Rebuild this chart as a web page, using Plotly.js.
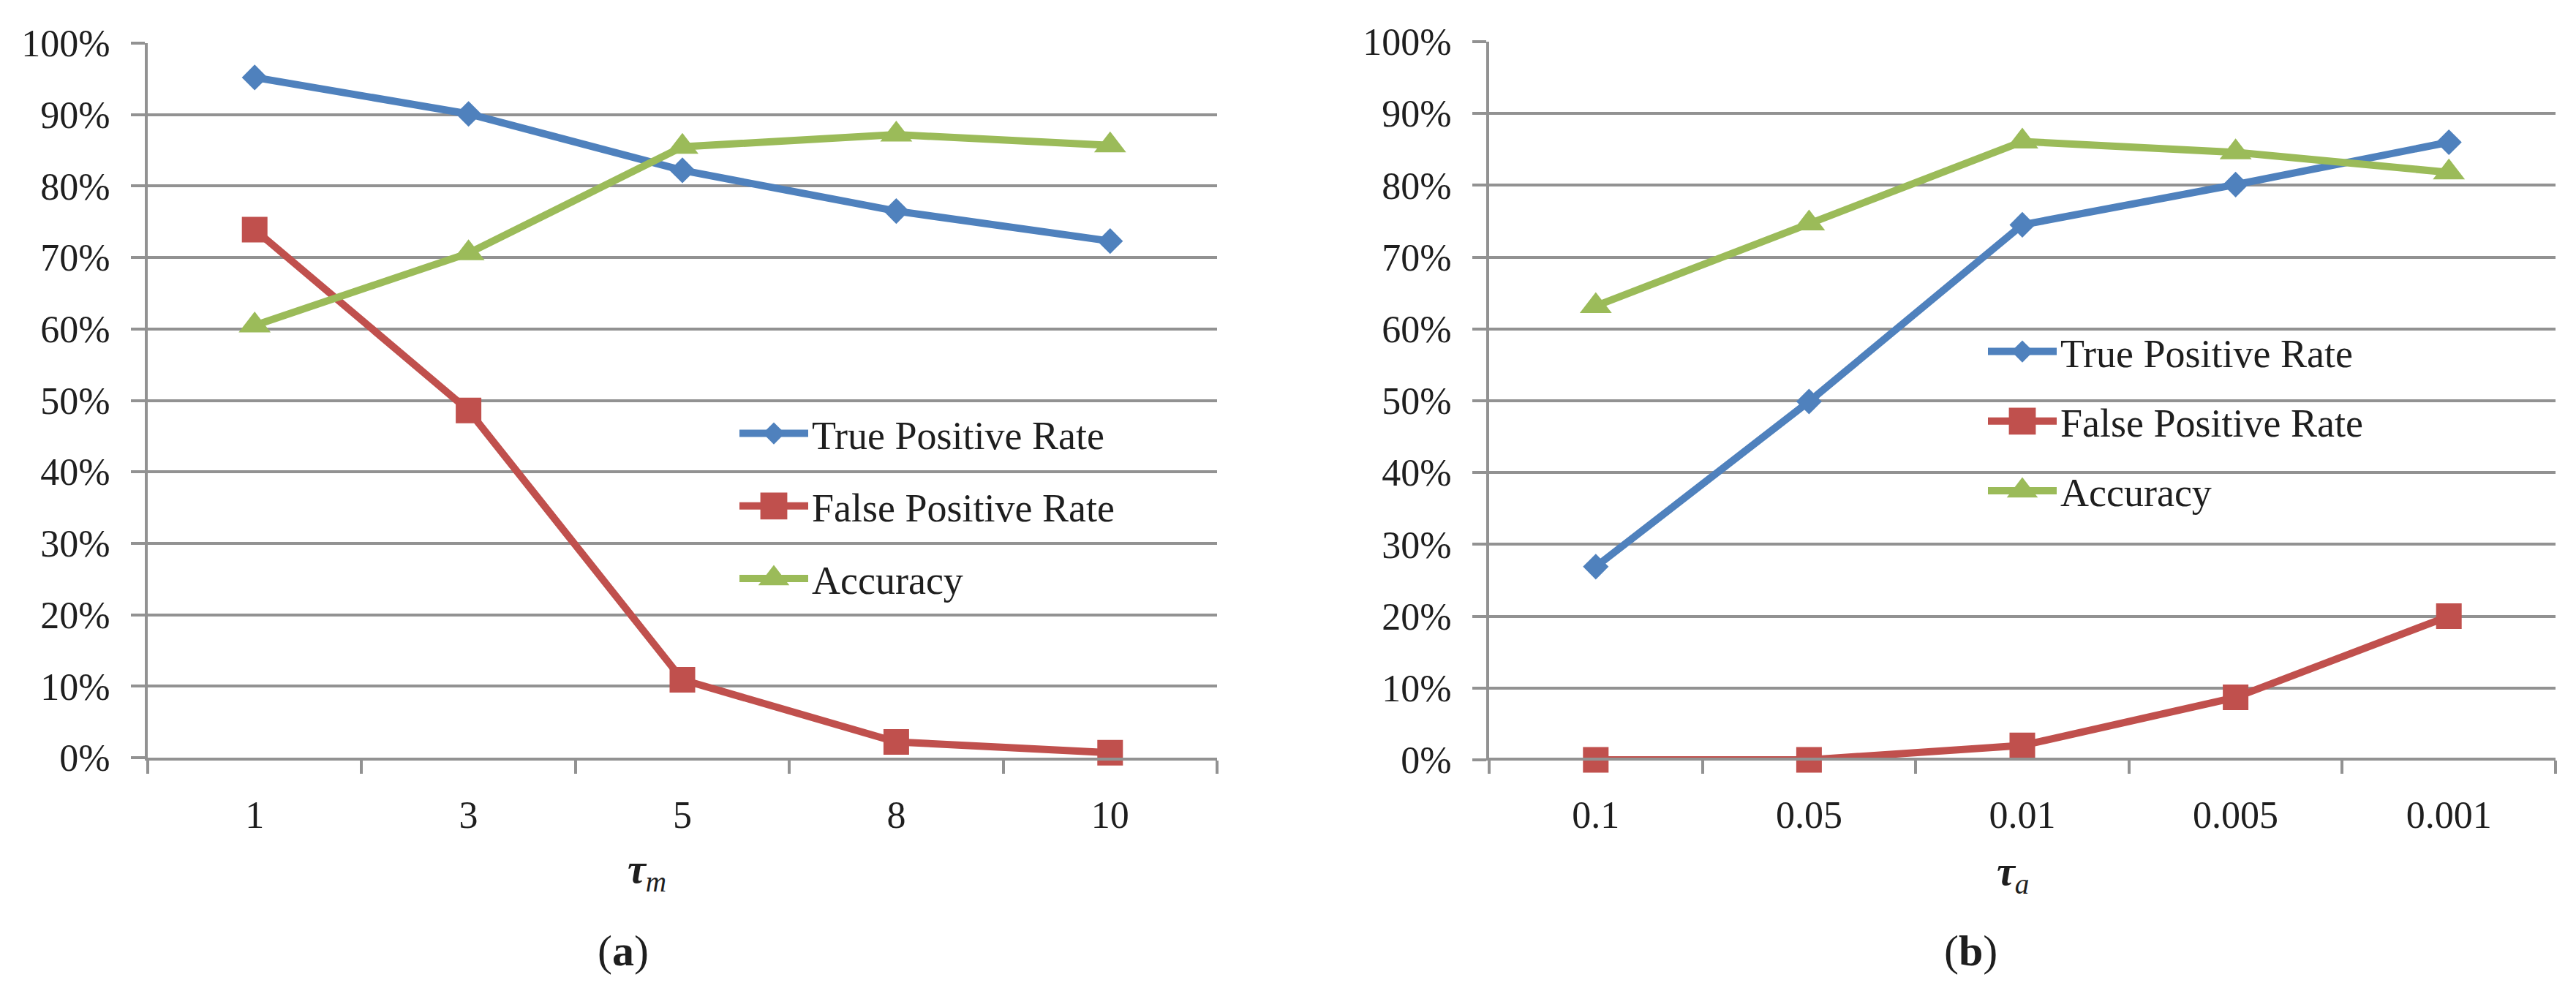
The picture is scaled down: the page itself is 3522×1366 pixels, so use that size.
<!DOCTYPE html>
<html>
<head>
<meta charset="utf-8">
<script src="https://cdn.plot.ly/plotly-3.0.1.min.js"></script>
<style>html,body{margin:0;padding:0;background:#fff;}#chart{width:3522px;height:1366px;}</style>
</head>
<body>
<div id="chart"></div>
<script>
// Panel (a): tau_m
const tauM = ['1', '3', '5', '8', '10'];
const tprA = [0.952, 0.901, 0.822, 0.765, 0.723];
const fprA = [0.739, 0.486, 0.109, 0.022, 0.007];
const accA = [0.605, 0.706, 0.855, 0.872, 0.857];
// Panel (b): tau_a
const tauA = ['0.1', '0.05', '0.01', '0.005', '0.001'];
const tprB = [0.269, 0.499, 0.745, 0.801, 0.860];
const fprB = [0.000, 0.000, 0.020, 0.087, 0.200];
const accB = [0.632, 0.747, 0.861, 0.846, 0.818];

const seriesNames = ['True Positive Rate', 'False Positive Rate', 'Accuracy'];
const yTickVals = [0, 0.1, 0.2, 0.3, 0.4, 0.5, 0.6, 0.7, 0.8, 0.9, 1.0];

const colors = ['#4F81BD', '#C0504D', '#9BBB59'];
const symbols = ['diamond', 'square', 'triangle-up'];
const msizes = [27, 35, 38];
const legendScale = [1.45, 2.3, 2.3];
const FONT = '"Palatino Linotype", "Book Antiqua", Palatino, "Liberation Serif", "DejaVu Serif", serif';
const TXT = '#1e1e1e';
const GRID = '#929292';

function mk(x, y, i, xa, ya, leg, grp) {
  return {
    type: 'scatter', mode: 'lines+markers', x: x, y: y,
    name: seriesNames[i], xaxis: xa, yaxis: ya, legend: leg,
    legendgroup: grp + i, cliponaxis: false,
    line: {color: colors[i], width: 10},
    marker: {symbol: symbols[i], size: msizes[i], color: colors[i]},
    hoverinfo: 'x+y'
  };
}

const data = [
  mk(tauM, tprA, 0, 'x', 'y', 'legend', 'a'),
  mk(tauM, fprA, 1, 'x', 'y', 'legend', 'a'),
  mk(tauM, accA, 2, 'x', 'y', 'legend', 'a'),
  mk(tauA, tprB, 0, 'x2', 'y2', 'legend2', 'b'),
  mk(tauA, fprB, 1, 'x2', 'y2', 'legend2', 'b'),
  mk(tauA, accB, 2, 'x2', 'y2', 'legend2', 'b')
];

function xax(domain, cats) {
  return {
    domain: domain, type: 'category', categoryorder: 'array', categoryarray: cats,
    range: [-0.5, 4.5], showgrid: false, zeroline: false,
    showline: true, linecolor: GRID, linewidth: 4,
    ticks: 'outside', tickson: 'boundaries', ticklen: 18, tickwidth: 4, tickcolor: GRID,
    ticklabelstandoff: 30,
    tickfont: {family: FONT, size: 52, color: TXT},
    fixedrange: true
  };
}
function yax(domain, anchor) {
  return {
    domain: domain, anchor: anchor, range: [0, 1], tickvals: yTickVals, tickformat: '.0%',
    showgrid: true, gridcolor: GRID, gridwidth: 4, zeroline: false,
    showline: true, linecolor: GRID, linewidth: 4,
    ticks: 'outside', ticklen: 19, tickwidth: 4, tickcolor: GRID,
    ticklabelstandoff: 18,
    tickfont: {family: FONT, size: 52, color: TXT},
    fixedrange: true
  };
}

function legStyle(extra) {
  return Object.assign({
    font: {family: FONT, size: 54, color: TXT},
    bgcolor: 'rgba(0,0,0,0)', borderwidth: 0,
    traceorder: 'grouped', itemwidth: 94,
    xanchor: 'left', yanchor: 'top'
  }, extra);
}

const layout = {
  width: 3522, height: 1366,
  margin: {l: 0, r: 0, t: 0, b: 0},
  paper_bgcolor: '#ffffff', plot_bgcolor: '#ffffff',
  font: {family: FONT, size: 52, color: TXT},
  showlegend: true,
  xaxis: xax([202 / 3522, 1664 / 3522], tauM),
  yaxis: yax([1 - 1036 / 1366, 1 - 59 / 1366], 'x'),
  xaxis2: xax([2036 / 3522, 3494 / 3522], tauA),
  yaxis2: yax([1 - 1039 / 1366, 1 - 57 / 1366], 'x2'),
  legend: legStyle({x: 1006 / 3522, y: 1 - 551 / 1366, tracegroupgap: 26}),
  legend2: legStyle({x: 2713 / 3522, y: 1 - 439 / 1366, tracegroupgap: 22}),
  annotations: [
    {xref: 'paper', yref: 'paper', x: 885 / 3522, y: 1 - 1192 / 1366, xanchor: 'center', yanchor: 'middle',
     text: '<b><i>τ</i></b><sub><i>m</i></sub>', showarrow: false, font: {family: FONT, size: 56, color: TXT}},
    {xref: 'paper', yref: 'paper', x: 2752 / 3522, y: 1 - 1195 / 1366, xanchor: 'center', yanchor: 'middle',
     text: '<b><i>τ</i></b><sub><i>a</i></sub>', showarrow: false, font: {family: FONT, size: 56, color: TXT}},
    {xref: 'paper', yref: 'paper', x: 852 / 3522, y: 1 - 1300 / 1366, xanchor: 'center', yanchor: 'middle',
     text: '(<b>a</b>)', showarrow: false, font: {family: FONT, size: 60, color: TXT}},
    {xref: 'paper', yref: 'paper', x: 2694 / 3522, y: 1 - 1300 / 1366, xanchor: 'center', yanchor: 'middle',
     text: '(<b>b</b>)', showarrow: false, font: {family: FONT, size: 60, color: TXT}}
  ]
};

Plotly.newPlot('chart', data, layout, {staticPlot: true, displayModeBar: false}).then(function () {
  // enlarge legend marker glyphs to match the reference symbol size (both legends)
  document.querySelectorAll('g.legend, g.legend2').forEach(function (leg) {
    leg.querySelectorAll('g.traces').forEach(function (tr, i) {
      tr.querySelectorAll('.legendpoints path.scatterpts').forEach(function (p) {
        if (p.dataset.scaled) return;
        p.dataset.scaled = '1';
        const t = p.getAttribute('transform') || '';
        p.setAttribute('transform', t + ' scale(' + legendScale[i % 3] + ')');
      });
    });
  });
});
</script>
</body>
</html>
